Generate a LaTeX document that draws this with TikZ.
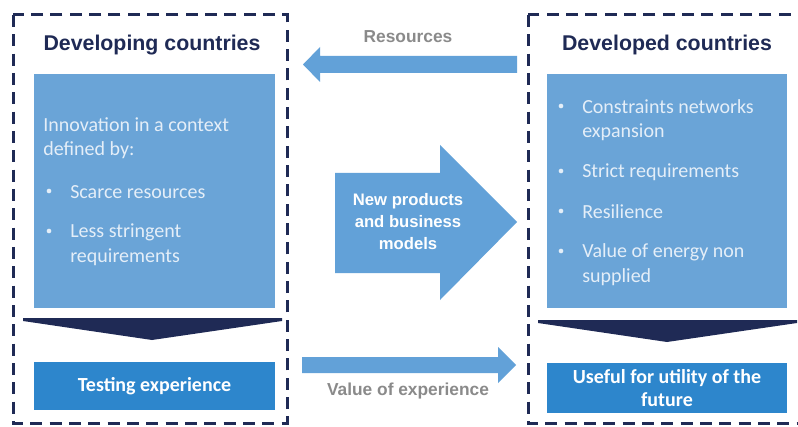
\documentclass[tikz,border=0pt]{standalone}
\usepackage{fontspec}
\setmainfont{Liberation Sans}
\newfontfamily\calfont{Carlito}
\usetikzlibrary{fit}
\definecolor{navy}{HTML}{1F2A55}
\definecolor{lightblue}{HTML}{6AA4D7}
\definecolor{arrowblue}{HTML}{62A1D8}
\definecolor{midblue}{HTML}{2D86CC}
\definecolor{greytext}{HTML}{8A8A8A}
\definecolor{paletext}{HTML}{E4EEF8}
\tikzset{
  frame/.style={draw=navy, line width=2.25pt, dash pattern=on 9pt off 5.5pt},
  lightbox/.style={fill=lightblue, draw=none, inner sep=0pt},
  darkbox/.style={fill=midblue, draw=none, inner sep=0pt},
  chevron/.style={fill=navy, draw=none},
  blockarrow/.style={fill=arrowblue, draw=none},
  title/.style={text=navy, font=\fontsize{16}{19}\selectfont\bfseries, inner sep=0pt},
  body/.style={text=paletext, font=\calfont\fontsize{15}{18}\selectfont, anchor=west, inner sep=0pt},
  bulletdot/.style={fill=paletext, draw=none, circle, inner sep=0pt, minimum size=3.5pt},
  boxtext/.style={text=white, font=\calfont\fontsize{15}{17.5}\selectfont\bfseries, align=center, inner sep=0pt},
  arrowlabel/.style={text=greytext, font=\fontsize{13}{16}\selectfont\bfseries, inner sep=0pt},
  bigarrowtext/.style={text=white, font=\fontsize{12.5}{16.5}\selectfont\bfseries, align=center, inner sep=0pt}
}
\begin{document}
\begin{tikzpicture}[x=0.75pt,y=-0.75pt]
\useasboundingbox (0,0) rectangle (798,427);
\clip (0,0) rectangle (798,427);
\fill[white] (0,0) rectangle (798,427);

% dashed frames
\draw[frame] (13,15) rectangle (287,423);
\draw[frame] (528,15) rectangle (812,423);

% titles
\node[title] (tl) at (152,45) {Developing countries};
\node[title] (tr) at (667,45) {Developed countries};

% light boxes
\node[lightbox, fit={(34,74) (275,308)}] (L) {};
\node[lightbox, fit={(547,74) (787,308)}] (R) {};

% left box text
\node[body] (l1) at (43,125) {Innovation in a context};
\node[body] (l2) at (43,150) {defined by:};
\node[bulletdot] (lb1) at (49,191) {};
\node[body] (l3) at (70,192) {Scarce resources};
\node[bulletdot] (lb2) at (49,231) {};
\node[body] (l4) at (70,232) {Less stringent};
\node[body] (l5) at (70,257) {requirements};

% right box text
\node[bulletdot] (rb1) at (561,106) {};
\node[body] (r1) at (582,107) {Constraints networks};
\node[body] (r2) at (582,132) {expansion};
\node[bulletdot] (rb2) at (561,171) {};
\node[body] (r3) at (582,172) {Strict requirements};
\node[bulletdot] (rb3) at (561,211) {};
\node[body] (r4) at (582,212) {Resilience};
\node[bulletdot] (rb4) at (561,251) {};
\node[body] (r5) at (582,252) {Value of energy non};
\node[body] (r6) at (582,277) {supplied};

% chevrons
\fill[chevron] (23,318) -- (282,318) -- (282,321) -- (152,340) -- (23,321) -- cycle;
\fill[chevron] (538,320) -- (797,320) -- (797,323) -- (667,342) -- (538,323) -- cycle;

% dark boxes
\node[darkbox, fit={(34,362) (275,410)}] (LT) {};
\node[boxtext] at (LT.center) {Testing experience};
\node[darkbox, fit={(547,363) (787,413)}] (RT) {};
\node[boxtext] at (RT.center) {Useful for utility of the\\future};

% resources arrow (right to left)
\fill[blockarrow] (517,56) -- (320,56) -- (320,47) -- (303,64.5) -- (320,82) -- (320,73) -- (517,73) -- cycle;
\node[arrowlabel] (res) at (408,37) {Resources};

% value of experience arrow (left to right)
\fill[blockarrow] (302,357) -- (498,357) -- (498,347) -- (516,365) -- (498,383) -- (498,373) -- (302,373) -- cycle;
\node[arrowlabel] (voe) at (408,391) {Value of experience};

% big arrow
\fill[blockarrow] (335,173) -- (440,173) -- (440,145) -- (517,222) -- (440,300) -- (440,273) -- (335,273) -- cycle;
\node[bigarrowtext] (np) at (408,222) {New products\\and business\\models};
\end{tikzpicture}
\end{document}
